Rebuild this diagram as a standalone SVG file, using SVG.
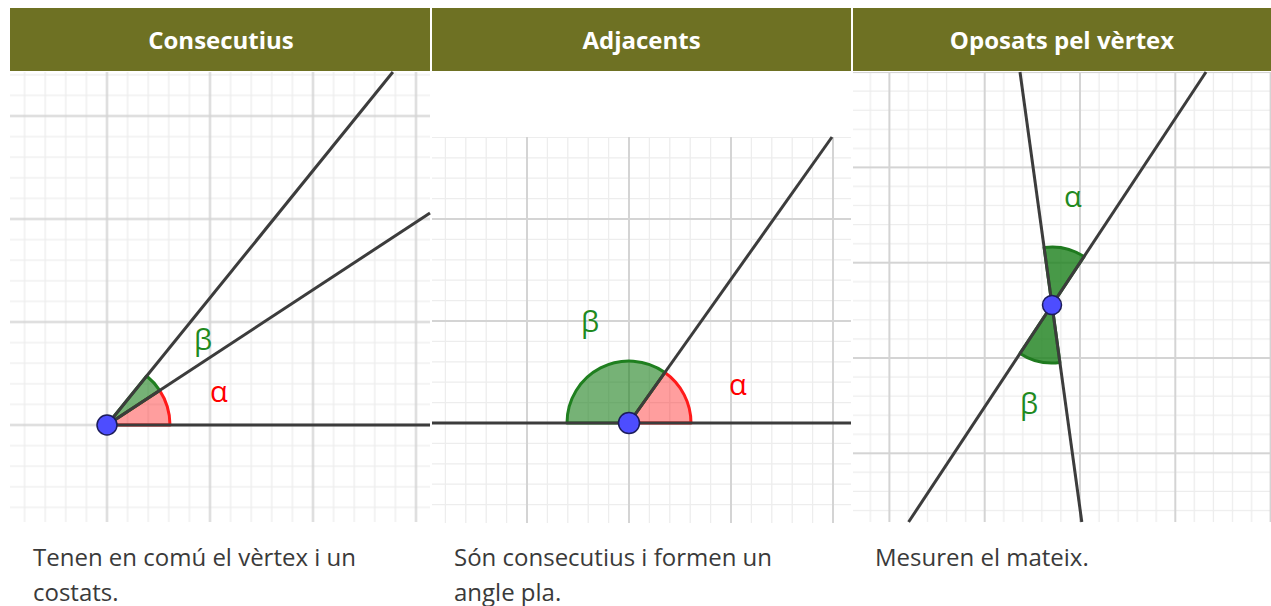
<svg xmlns="http://www.w3.org/2000/svg" width="1271" height="606" viewBox="0 0 1271 606">
<style>
.hdr{fill:#6e7123}
.title{font-family:"Open Sans","Liberation Sans",sans-serif;font-weight:700;font-size:24px;fill:#ffffff;text-anchor:middle}
.body{font-family:"Open Sans","Liberation Sans",sans-serif;font-size:24px;fill:#3a3a3a}
.maj{stroke:#d4d4d4;stroke-width:2;fill:none}
.min{stroke:#ededed;stroke-width:1.3;fill:none}
.ln{stroke:#3c3c3c;stroke-width:3;stroke-linecap:butt;fill:none}
.red{fill:#ff0000;fill-opacity:0.38;stroke:#ff1a1a;stroke-width:3;stroke-linejoin:round}
.grn{fill:#1a7f1a;fill-opacity:0.6;stroke:#1f7f1f;stroke-width:3;stroke-linejoin:round}
.grn2{fill:#1a7f1a;fill-opacity:0.8;stroke:#1f7a1f;stroke-width:3;stroke-linejoin:round}
.pt{fill:#4d4dff;stroke:#1c1c5a;stroke-width:1.5}
.lblr{font-family:"Open Sans","DejaVu Sans",sans-serif;font-size:29px;fill:#ff0000}
.lblg{font-family:"Open Sans","DejaVu Sans",sans-serif;font-size:29px;fill:#1f8a1f}
</style>
<defs>
<pattern id="g1" patternUnits="userSpaceOnUse" x="55.5" y="373.5" width="103" height="103">
<path class="min" d="M10.3 0V103M30.9 0V103M72.1 0V103M92.7 0V103M0 10.3H103M0 30.9H103M0 72.1H103M0 92.7H103"/>
<path class="maj" d="M51.5 0V103M0 51.5H103"/>
</pattern>
<pattern id="g2" patternUnits="userSpaceOnUse" x="578" y="372" width="102" height="102">
<path class="min" d="M10.2 0V102M30.6 0V102M71.4 0V102M91.8 0V102M0 10.2H102M0 30.6H102M0 71.4H102M0 91.8H102"/>
<path class="maj" d="M51 0V102M0 51H102"/>
</pattern>
<pattern id="g3" patternUnits="userSpaceOnUse" x="1032.35" y="310.35" width="95.3" height="95.3">
<path class="min" d="M9.53 0V95.3M28.59 0V95.3M66.71 0V95.3M85.77 0V95.3M0 9.53H95.3M0 28.59H95.3M0 66.71H95.3M0 85.77H95.3"/>
<path class="maj" d="M47.65 0V95.3M0 47.65H95.3"/>
</pattern>
</defs>
<rect width="1271" height="606" fill="#ffffff"/>

<g id="header">
<rect class="hdr" x="10" y="8" width="420" height="63"/>
<rect class="hdr" x="432" y="8" width="419" height="63"/>
<rect class="hdr" x="853" y="8" width="418" height="63"/>
<text class="title" x="221" y="49">Consecutius</text>
<text class="title" x="641.5" y="49">Adjacents</text>
<text class="title" x="1062" y="49">Oposats pel vèrtex</text>
</g>

<g id="panel-consecutius">
<rect x="10" y="72" width="420" height="450" fill="url(#g1)"/>
<path id="alpha-1" class="red" d="M107 425L170 425A63 63 0 0 0 159.65 390.4Z"/>
<path id="beta-1" class="grn" d="M107 425L159.65 390.4A63 63 0 0 0 146.65 376.04Z"/>
<g id="connectors-1">
<path class="ln" d="M107 425H430"/>
<path class="ln" d="M107 425L392.9 72"/>
<path class="ln" d="M107 425L430 213"/>
</g>
<circle id="vertex-1" class="pt" cx="107" cy="425" r="10"/>
<text class="lblg" x="194" y="350">β</text>
<text class="lblr" x="210" y="402">α</text>
</g>

<g id="panel-adjacents">
<rect x="432" y="137" width="419" height="386" fill="url(#g2)"/>
<path id="alpha-2" class="red" d="M629 423L691 423A62 62 0 0 0 664.9 372.5Z"/>
<path id="beta-2" class="grn" d="M629 423L664.9 372.5A62 62 0 0 0 567 423Z"/>
<g id="connectors-2">
<path class="ln" d="M432 423H851"/>
<path class="ln" d="M629 423L832 137"/>
</g>
<circle id="vertex-2" class="pt" cx="629" cy="423" r="10.5"/>
<text class="lblg" x="581" y="332">β</text>
<text class="lblr" x="729" y="395">α</text>
</g>

<g id="panel-oposats">
<rect x="853" y="72" width="418" height="450" fill="url(#g3)"/>
<path id="alpha-3" class="grn2" d="M1052 305L1084 256.6A58 58 0 0 0 1044.1 247.5Z"/>
<path id="beta-3" class="grn2" d="M1052 305L1020 353.4A58 58 0 0 0 1059.9 362.5Z"/>
<g id="connectors-3">
<path class="ln" d="M1020 72L1081.8 522"/>
<path class="ln" d="M1206 72L908.6 522"/>
</g>
<circle id="vertex-3" class="pt" cx="1052" cy="305" r="9.5"/>
<text class="lblg" x="1064" y="207">α</text>
<text class="lblg" x="1020" y="414">β</text>
</g>

<g id="captions">
<text class="body" x="33" y="566">Tenen en comú el vèrtex i un</text>
<text class="body" x="33" y="601">costats.</text>
<text class="body" x="454" y="566">Són consecutius i formen un</text>
<text class="body" x="454" y="601">angle pla.</text>
<text class="body" x="875" y="566">Mesuren el mateix.</text>
</g>
</svg>
